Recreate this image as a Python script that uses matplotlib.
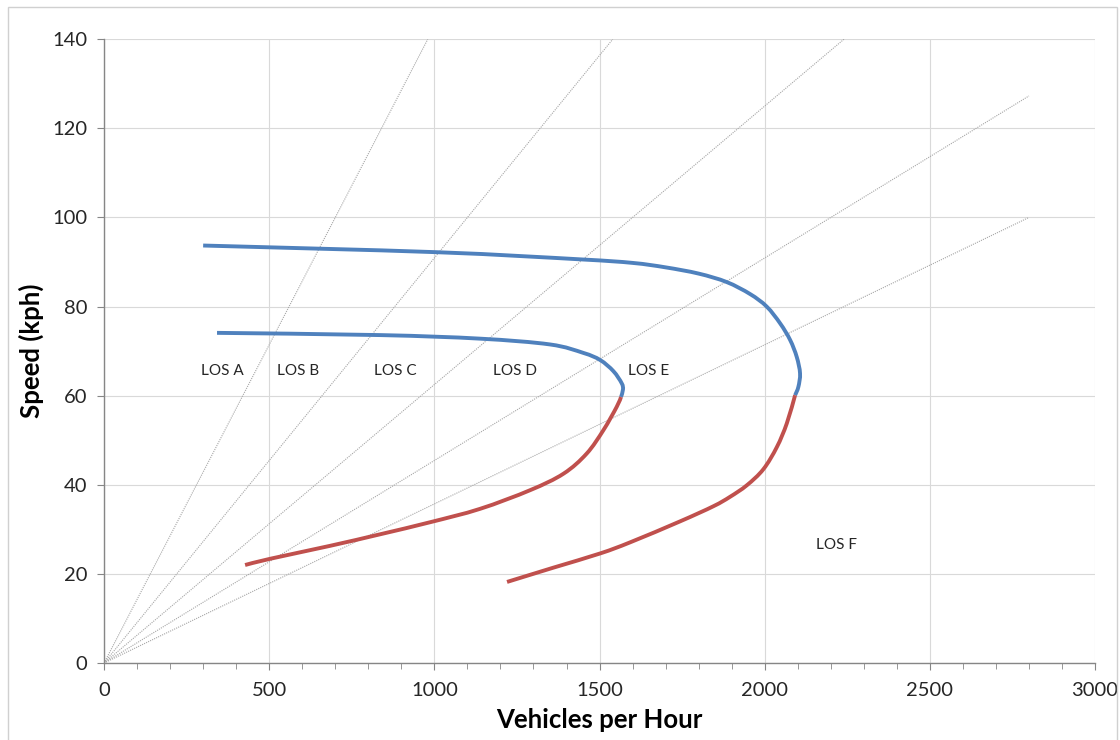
import matplotlib
matplotlib.use("Agg")
import matplotlib.pyplot as plt
from matplotlib.patches import Rectangle, PathPatch
from matplotlib.path import Path
import numpy as np

plt.rcParams['font.family'] = ['Lato', 'DejaVu Sans']

# LOS boundary densities (veh/km) -> rays from origin
los_densities = [7, 11, 16, 22, 28]
ray_flow_max = 2800
ray_speed_max = 140

# Outer curve (blue = uncongested, red = congested)
outer_blue_flow = [300, 1008, 1441, 1600, 1700, 1800, 1885, 1956, 2006, 2047, 2077, 2097, 2107, 2102, 2092]
outer_blue_speed = [93.7, 92.2, 90.6, 89.8, 88.8, 87.4, 85.5, 82.8, 80.0, 76.2, 72.5, 68.7, 65.0, 62.0, 60.1]
outer_red_flow = [2092, 2067, 2037, 1996, 1946, 1895, 1845, 1744, 1593, 1502, 1360, 1220]
outer_red_speed = [60.1, 53.8, 48.5, 43.5, 39.9, 37.3, 35.2, 31.8, 27.1, 24.6, 21.4, 18.2]

# Inner curve
inner_blue_flow = [342, 836, 1138, 1350, 1451, 1502, 1542, 1567, 1571, 1565]
inner_blue_speed = [74.1, 73.6, 72.8, 71.5, 69.6, 68.0, 65.5, 62.8, 61.4, 59.7]
inner_red_flow = [1565, 1552, 1512, 1461, 1391, 1290, 1138, 987, 836, 684, 503, 427]
inner_red_speed = [59.7, 57.5, 52.3, 47.0, 42.5, 38.8, 34.6, 31.6, 28.9, 26.3, 23.4, 22.0]

los_labels = ["LOS A", "LOS B", "LOS C", "LOS D", "LOS E", "LOS F"]
los_label_x = [357, 587, 881, 1244, 1647, 2216]
los_label_y = [65.5, 65.5, 65.5, 65.5, 65.5, 26.5]

x_ticks = [0, 500, 1000, 1500, 2000, 2500, 3000]
y_ticks = [0, 20, 40, 60, 80, 100, 120, 140]

BLUE = '#4F81BD'
RED = '#C0504D'


def smooth_path(xs, ys):
    """Catmull-Rom style smoothed line (like a spreadsheet 'smoothed line')."""
    pts = np.column_stack([xs, ys]).astype(float)
    n = len(pts)
    verts = [pts[0]]
    codes = [Path.MOVETO]
    for i in range(n - 1):
        p0 = pts[i - 1] if i > 0 else pts[i]
        p1 = pts[i]
        p2 = pts[i + 1]
        p3 = pts[i + 2] if i + 2 < n else pts[i + 1]
        c1 = p1 + (p2 - p0) / 6.0
        c2 = p2 - (p3 - p1) / 6.0
        verts += [c1, c2, p2]
        codes += [Path.CURVE4] * 3
    return Path(verts, codes)


fig = plt.figure(figsize=(11.2, 7.4), dpi=100)
ax = fig.add_axes([0.0929, 0.104, 0.8848, 0.843])

# figure border
fig.patches.append(Rectangle((0.0075, -0.01), 0.99, 1.0, transform=fig.transFigure,
                             fill=False, edgecolor='#D0D0D0', linewidth=1.0))

# rays
for k in los_densities:
    if ray_speed_max * k <= ray_flow_max:
        xe, ye = ray_speed_max * k, ray_speed_max
    else:
        xe, ye = ray_flow_max, ray_flow_max / k
    ax.plot([0, xe], [0, ye], color='#A6A6A6', linestyle=(0, (1, 1)), linewidth=0.8, zorder=2)

lw = 2.8
for xs, ys, col in [(outer_blue_flow, outer_blue_speed, BLUE),
                    (outer_red_flow, outer_red_speed, RED),
                    (inner_blue_flow, inner_blue_speed, BLUE),
                    (inner_red_flow, inner_red_speed, RED)]:
    ax.add_patch(PathPatch(smooth_path(xs, ys), facecolor='none', edgecolor=col,
                           linewidth=lw, capstyle='butt', zorder=3))

for lab, lx, ly in zip(los_labels, los_label_x, los_label_y):
    ax.text(lx, ly, lab, fontsize=11, color='#262626', ha='center', va='center', zorder=4)

ax.set_xlim(0, 3000)
ax.set_ylim(0, 140)
ax.set_xticks(x_ticks)
ax.set_yticks(y_ticks)
ax.set_xticks(np.arange(0, 3001, 100), minor=True)
ax.grid(True, which='major', color='#D9D9D9', linewidth=0.8, zorder=0)
ax.set_axisbelow(True)

for s in ['top', 'right']:
    ax.spines[s].set_visible(False)
for s in ['left', 'bottom']:
    ax.spines[s].set_color('#868686')
    ax.spines[s].set_linewidth(1.0)

ax.tick_params(axis='x', which='major', direction='out', length=5, color='#868686',
               labelsize=14.5, labelcolor='#262626', pad=9)
ax.tick_params(axis='x', which='minor', direction='out', length=4, color='#868686')
ax.tick_params(axis='y', which='major', direction='out', length=5, color='#868686',
               labelsize=14.5, labelcolor='#262626', pad=7)

ax.set_xlabel('Vehicles per Hour', fontsize=18.5, fontweight='bold', color='#000000', labelpad=6)
ax.set_ylabel('Speed (kph)', fontsize=18.5, fontweight='bold', color='#000000', labelpad=6)

fig.savefig('out.png', dpi=100)
